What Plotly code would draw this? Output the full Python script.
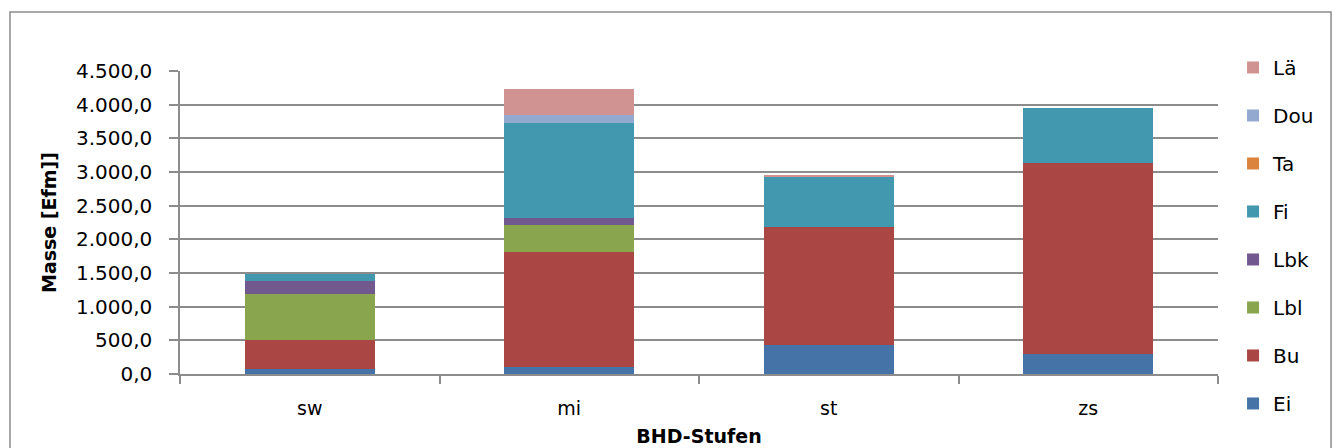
import plotly.graph_objects as go

categories = ["sw", "mi", "st", "zs"]
series_names = ["Ei", "Bu", "Lbl", "Lbk", "Fi", "Ta", "Dou", "Lä"]
ei = [74, 109, 432, 293]
bu = [432, 1701, 1750, 2842]
lbl = [689, 397, 0, 0]
lbk = [184, 109, 0, 0]
fi = [104, 1414, 754, 813]
ta = [0, 0, 0, 0]
dou = [0, 119, 0, 0]
lae = [0, 377, 22, 0]
series_values = [ei, bu, lbl, lbk, fi, ta, dou, lae]
colors = ["#4572A7", "#AA4643", "#89A54E", "#71588F", "#4198AF", "#DB843D", "#93A9CF", "#D19392"]
y_tickvals = [0, 500, 1000, 1500, 2000, 2500, 3000, 3500, 4000, 4500]
y_ticktext = ["0,0", "500,0", "1.000,0", "1.500,0", "2.000,0", "2.500,0",
              "3.000,0", "3.500,0", "4.000,0", "4.500,0"]

FONT = "DejaVu Sans"
GRID = "#8c8c8c"

fig = go.Figure()
n = len(series_names)
for i, (name, vals, col) in enumerate(zip(series_names, series_values, colors)):
    fig.add_trace(go.Bar(
        x=categories, y=vals, name=name, legendgroup=name,
        legendrank=(n - i) * 10,
        marker=dict(color=col, line=dict(width=0)),
    ))

fig.update_layout(
    barmode="stack",
    bargap=0.5,
    width=1341, height=448,
    margin=dict(l=180, r=123, t=71, b=74, autoexpand=False),
    paper_bgcolor="white", plot_bgcolor="white",
    font=dict(family=FONT, size=19, color="black"),
    showlegend=True,
    legend=dict(
        x=1.0145, xanchor="left", y=1.076, yanchor="top",
        traceorder="grouped", tracegroupgap=19, maxheight=440,
        font=dict(family=FONT, size=20, color="black"),
        bgcolor="rgba(0,0,0,0)",
    ),
    xaxis=dict(
        automargin=False,
        showgrid=False, showline=True, linecolor=GRID, linewidth=1.5,
        ticks="outside", tickson="boundaries", ticklen=8, tickcolor=GRID, tickwidth=1.5,
        ticklabelstandoff=16,
        tickfont=dict(family=FONT, size=19),
        title=dict(text="<b>BHD-Stufen</b>", font=dict(family=FONT, size=19), standoff=12),
    ),
    yaxis=dict(
        automargin=False,
        range=[0, 4500], tickvals=y_tickvals, ticktext=y_ticktext,
        showgrid=True, gridcolor=GRID, gridwidth=1.5,
        showline=True, linecolor=GRID, linewidth=1.5,
        ticks="outside", ticklen=9, tickcolor=GRID, tickwidth=1.5,
        ticklabelstandoff=13,
        tickfont=dict(family=FONT, size=20),
        zeroline=False,
        title=dict(text="<b>Masse [Efm]]</b>", font=dict(family=FONT, size=19), standoff=14),
    ),
    shapes=[dict(
        type="rect", xref="paper", yref="paper",
        x0=-0.1638, x1=1.1089, y0=-0.35, y1=1.1947,
        line=dict(color="#8c8c8c", width=1.5), fillcolor="rgba(0,0,0,0)", layer="below",
    )],
)

fig.write_html("out.html", config={"displayModeBar": False},
               post_script="document.body.style.margin='0';")
